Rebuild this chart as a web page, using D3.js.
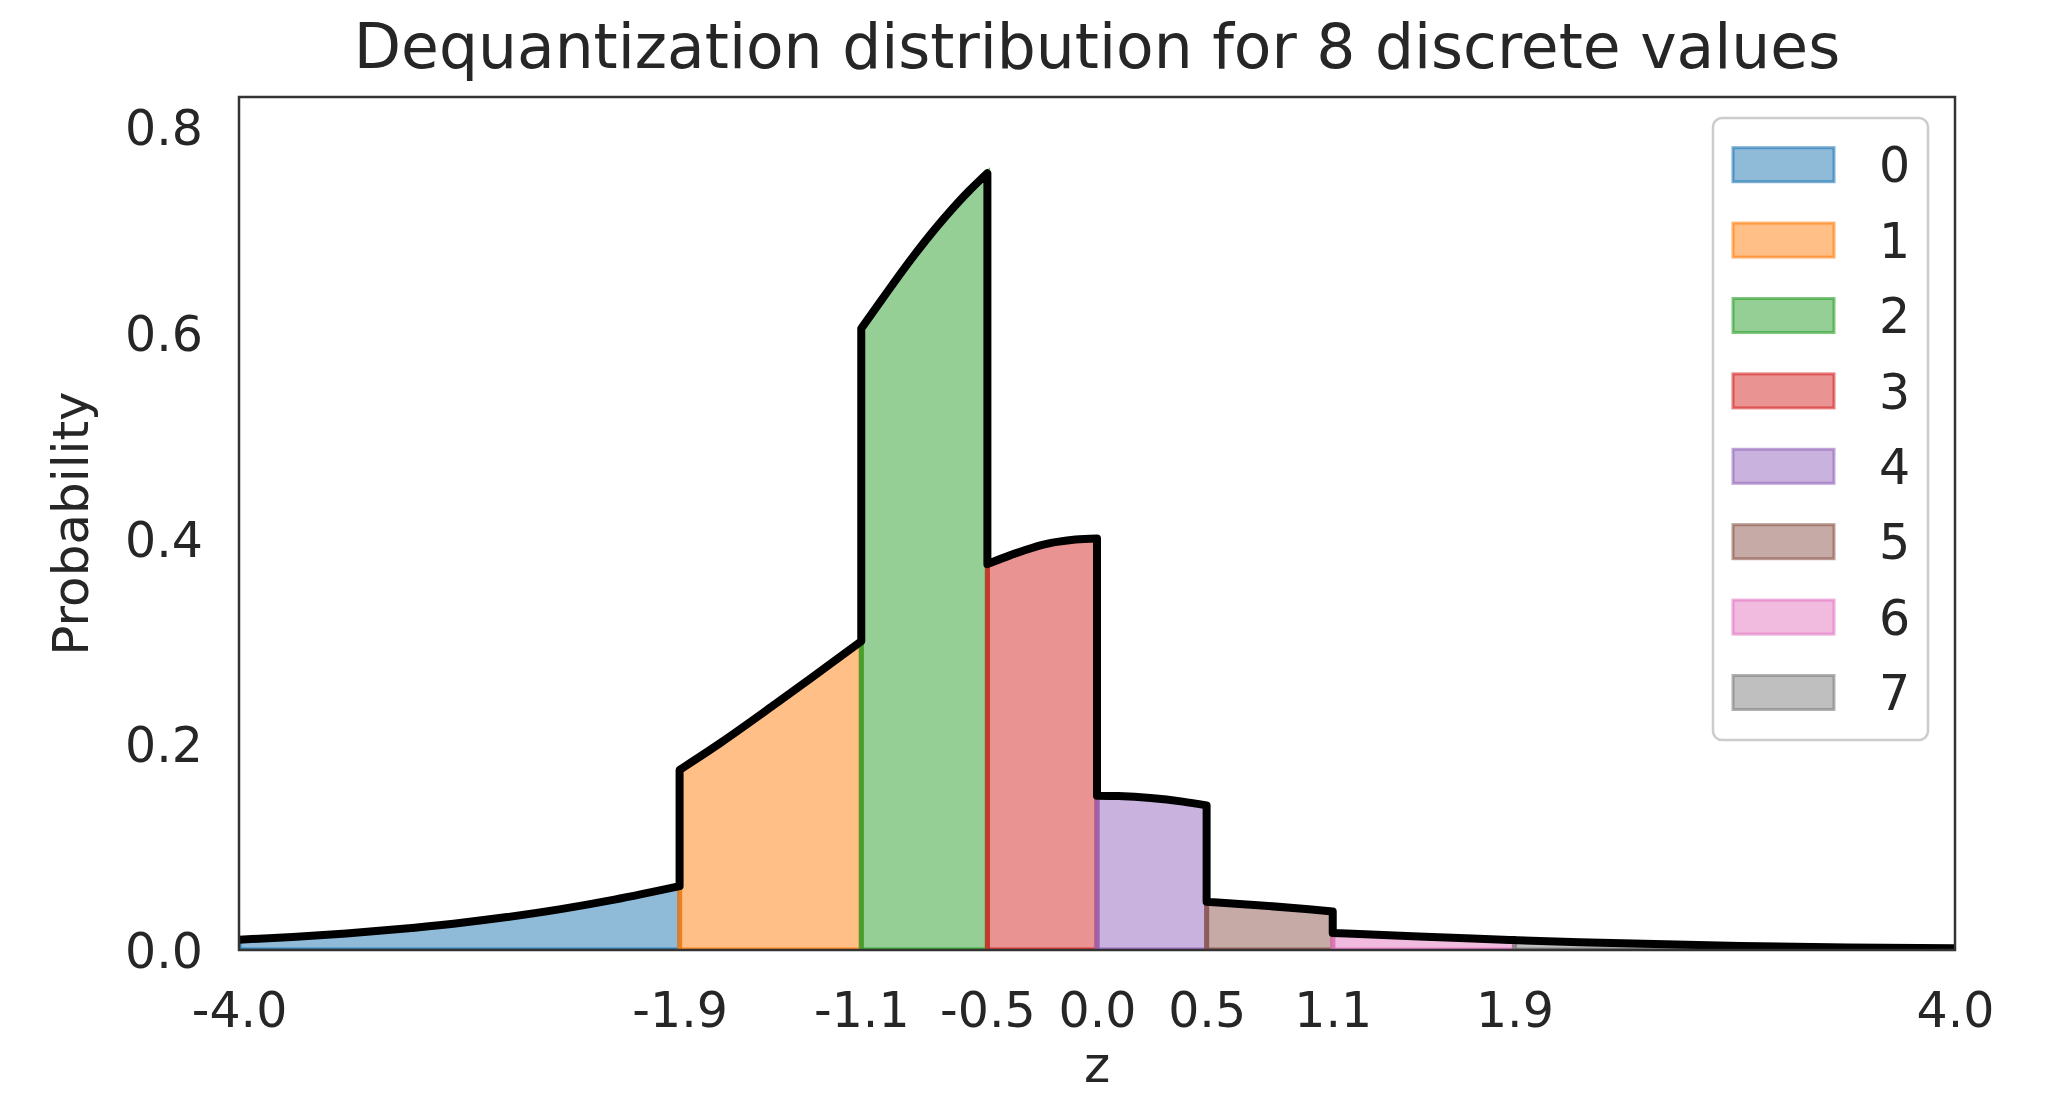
<!DOCTYPE html>
<html><head><meta charset="utf-8">
<script src="https://cdn.jsdelivr.net/npm/d3@7/dist/d3.min.js"></script>
<style>html,body{margin:0;padding:0;background:#fff;} svg{display:block;}</style>
</head><body>
<script>
// ---- data ----
const categories = ["0","1","2","3","4","5","6","7"];
const colors = ["#1f77b4","#ff7f0e","#2ca02c","#d62728","#9467bd","#8c564b","#e377c2","#7f7f7f"];
const xTickValues = [-4, -1.946, -1.099, -0.511, 0, 0.511, 1.099, 1.946, 4];
const xTickLabels = ["-4.0","-1.9","-1.1","-0.5","0.0","0.5","1.1","1.9","4.0"];
const yTickValues = [0, 0.2, 0.4, 0.6, 0.8];
const yTickLabels = ["0.0","0.2","0.4","0.6","0.8"];

// per-segment density samples: z positions and probability values
const seg0X = [-4, -3.75, -3.5, -3.25, -3, -2.75, -2.5, -2.25, -1.946];
const seg0Y = [0.0100, 0.0127, 0.0161, 0.0204, 0.0256, 0.0320, 0.0397, 0.0489, 0.0620];
const seg1X = [-1.946, -1.75, -1.5, -1.25, -1.099];
const seg1Y = [0.175, 0.202, 0.239, 0.277, 0.300];
const seg2X = [-1.099, -1.0, -0.9, -0.75, -0.6, -0.511];
const seg2Y = [0.604, 0.633, 0.662, 0.702, 0.737, 0.755];
const seg3X = [-0.511, -0.4, -0.25, -0.1, 0];
const seg3Y = [0.375, 0.384, 0.394, 0.399, 0.400];
const seg4X = [0, 0.1, 0.25, 0.4, 0.511];
const seg4Y = [0.150, 0.1496, 0.1477, 0.1442, 0.1406];
const seg5X = [0.511, 0.75, 1.0, 1.099];
const seg5Y = [0.0469, 0.0436, 0.0393, 0.0375];
const seg6X = [1.099, 1.25, 1.5, 1.75, 1.946];
const seg6Y = [0.0165, 0.0152, 0.0131, 0.0111, 0.0096];
const seg7X = [1.946, 2.25, 2.5, 2.75, 3, 3.5, 4];
const seg7Y = [0.0096, 0.0076, 0.0062, 0.0050, 0.0040, 0.0025, 0.0016];

const segX = [seg0X, seg1X, seg2X, seg3X, seg4X, seg5X, seg6X, seg7X];
const segY = [seg0Y, seg1Y, seg2Y, seg3Y, seg4Y, seg5Y, seg6Y, seg7Y];
const segments = segX.map((xs, i) => xs.map((x, j) => ({x, y: segY[i][j]})));

// ---- layout ----
const W = 2050, H = 1095;
const L = 239, R = 1955, T = 97, B = 950;
const textColor = "#262626";
const font = "'DejaVu Sans', 'Liberation Sans', sans-serif";

const svg = d3.select("body").append("svg").attr("width", W).attr("height", H);

const x = d3.scaleLinear().domain([-4, 4]).range([L, R]);
const y = d3.scaleLinear().domain([0, 0.829]).range([B, T]);

svg.append("defs").append("clipPath").attr("id", "plotclip")
  .append("rect").attr("x", L).attr("y", T).attr("width", R - L).attr("height", B - T);

const plot = svg.append("g").attr("clip-path", "url(#plotclip)");

const area = d3.area().x(d => x(d.x)).y0(y(0)).y1(d => y(d.y)).curve(d3.curveMonotoneX);
segments.forEach((seg, i) => {
  plot.append("path").attr("d", area(seg))
    .attr("fill", colors[i]).attr("fill-opacity", 0.5)
    .attr("stroke", colors[i]).attr("stroke-opacity", 0.8)
    .attr("stroke-width", 5).attr("stroke-linejoin", "miter");
});

// density outline: smooth inside each segment, vertical jumps between segments
const segLine = d3.line().x(d => x(d.x)).y(d => y(d.y)).curve(d3.curveMonotoneX);
const outline = segments.map((s, i) => {
  const p = segLine(s);
  return i === 0 ? p : p.replace(/^M/, "L");
}).join("");
plot.append("path").attr("d", outline)
  .attr("fill", "none").attr("stroke", "#000").attr("stroke-width", 8)
  .attr("stroke-linejoin", "round").attr("stroke-linecap", "butt");

// spines
svg.append("rect").attr("x", L).attr("y", T).attr("width", R - L).attr("height", B - T)
  .attr("fill", "none").attr("stroke", "#333").attr("stroke-width", 2.5);

// axes via d3.axis (no tick marks, matching seaborn white style)
const xAxis = d3.axisBottom(x).tickValues(xTickValues)
  .tickFormat((d, i) => xTickLabels[i]).tickSize(0).tickPadding(0);
const gx = svg.append("g").attr("transform", `translate(0,${B})`).call(xAxis);
gx.select(".domain").remove();
gx.selectAll("text").attr("font-family", font).attr("font-size", 49)
  .attr("fill", textColor).attr("dy", null).attr("y", 77);

const yAxis = d3.axisLeft(y).tickValues(yTickValues)
  .tickFormat((d, i) => yTickLabels[i]).tickSize(0).tickPadding(0);
const gy = svg.append("g").attr("transform", `translate(${L},0)`).call(yAxis);
gy.select(".domain").remove();
gy.selectAll("text").attr("font-family", font).attr("font-size", 49)
  .attr("fill", textColor).attr("x", -36).attr("dy", "0.36em");

// title & labels
svg.append("text").attr("x", (L + R) / 2).attr("y", 68).attr("text-anchor", "middle")
  .attr("font-family", font).attr("font-size", 61.5).attr("fill", textColor)
  .text("Dequantization distribution for 8 discrete values");
svg.append("text").attr("transform", `translate(88,${(T + B) / 2}) rotate(-90)`)
  .attr("text-anchor", "middle").attr("font-family", font).attr("font-size", 50)
  .attr("fill", textColor).text("Probability");
svg.append("text").attr("x", (L + R) / 2).attr("y", 1082).attr("text-anchor", "middle")
  .attr("font-family", font).attr("font-size", 50).attr("fill", textColor).text("z");

// legend
const lg = svg.append("g");
lg.append("rect").attr("x", 1713).attr("y", 118).attr("width", 215).attr("height", 622)
  .attr("rx", 9).attr("fill", "#fff").attr("fill-opacity", 0.8)
  .attr("stroke", "#cccccc").attr("stroke-width", 2.5);
categories.forEach((c, i) => {
  const cy = 164.7 + i * 75.4;
  lg.append("rect").attr("x", 1733).attr("y", cy - 17).attr("width", 101).attr("height", 34)
    .attr("fill", colors[i]).attr("fill-opacity", 0.5)
    .attr("stroke", colors[i]).attr("stroke-opacity", 0.6).attr("stroke-width", 3);
  lg.append("text").attr("x", 1879).attr("y", cy).attr("dy", "0.36em")
    .attr("font-family", font).attr("font-size", 49).attr("fill", textColor).text(c);
});
</script>
</body></html>
